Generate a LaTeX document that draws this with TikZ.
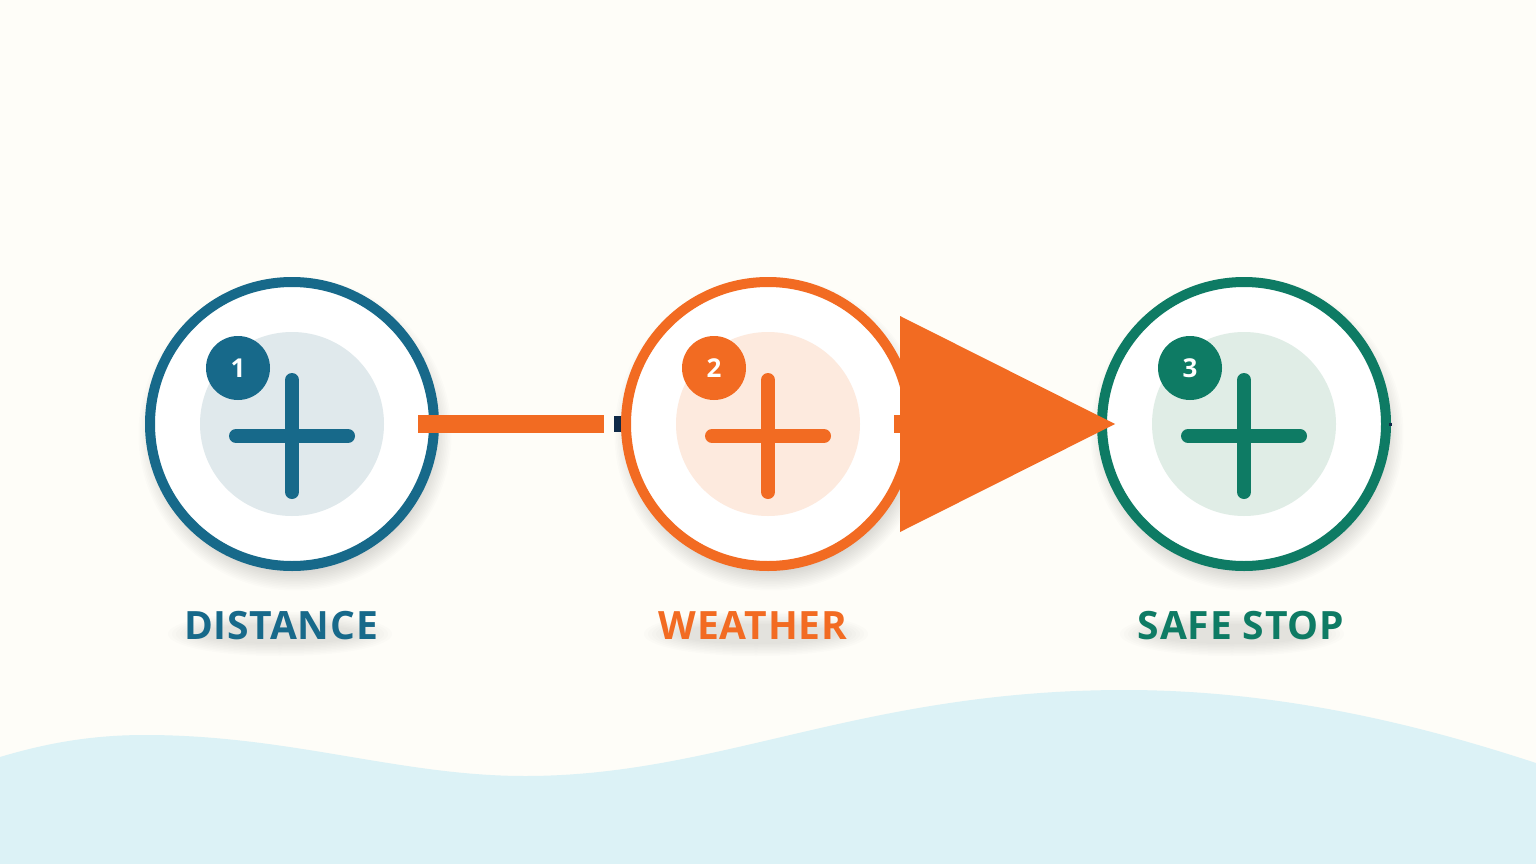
\documentclass[tikz,border=0pt]{standalone}
\usepackage{fontspec}
\setsansfont{Open Sans}
\newfontfamily\labfont[LetterSpace=2]{Open Sans}
\newfontfamily\badgefont{Open Sans}
\definecolor{bg}{HTML}{FEFDF8}
\definecolor{wave}{HTML}{DCF2F6}
\definecolor{cblue}{HTML}{17698A}
\definecolor{corange}{HTML}{F26B22}
\definecolor{cgreen}{HTML}{0E7B64}
\definecolor{tblue}{HTML}{E0E9EC}
\definecolor{torange}{HTML}{FDEADE}
\definecolor{tgreen}{HTML}{E0EDE6}
\definecolor{navy}{HTML}{0F2A48}
\definecolor{shade}{HTML}{4A4A5A}
\tikzset{
  ring/.style={circle, draw=#1, line width=10pt, fill=white, minimum size=284pt, inner sep=0pt},
  disc/.style={circle, fill=#1, minimum size=184pt, inner sep=0pt},
  badge/.style={circle, fill=#1, minimum size=64pt, inner sep=0pt, text=white, font=\badgefont\bfseries\fontsize{26}{26}\selectfont},
  plusbar/.style={draw=#1, line width=14pt, line cap=round},
  lab/.style={text=#1, font=\labfont\bfseries\fontsize{39}{39}\selectfont, inner sep=0pt},
  conn/.style={draw=corange, line width=18pt},
  softshade/.style={fill=shade, fill opacity=0.014},
}
\begin{document}
\begin{tikzpicture}[x=1pt,y=-1pt]
\fill[bg] (0,0) rectangle (1536,864);
\useasboundingbox (0,0) rectangle (1536,864);
\fill[wave] (0,757) .. controls (50,742) and (95,735) .. (145,735)
  .. controls (290,735) and (400,776) .. (525,776)
  .. controls (720,776) and (860,690) .. (1125,690)
  .. controls (1300,690) and (1450,735) .. (1536,763)
  -- (1536,864) -- (0,864) -- cycle;
% soft shadows
\foreach \x in {292,768,1244}{
  \foreach \k in {0,...,14}{
    \fill[softshade] (\x+3,434) circle[radius=134pt+\k*1.6pt];
  }
  \foreach \k in {0,...,8}{
    \fill[softshade] (\x-12,634) ellipse[x radius=80pt+\k*4pt, y radius=10pt+\k*1.5pt];
  }
}
% nodes
\foreach \i/\x/\c/\t/\n/\lx/\txt in {1/292/cblue/tblue/1/281/DISTANCE, 2/768/corange/torange/2/753/WEATHER, 3/1244/cgreen/tgreen/3/1241/SAFE STOP}{
  \node[ring=\c] (c\i) at (\x,424) {};
  \node[disc=\t] (d\i) at (c\i.center) {};
  \coordinate (p\i) at ([yshift=-12pt]c\i.center);
  \draw[plusbar=\c] ([yshift=56pt]p\i) -- ([yshift=-56pt]p\i);
  \draw[plusbar=\c] ([xshift=-56pt]p\i) -- ([xshift=56pt]p\i);
  \node[badge=\c] (b\i) at ([xshift=-54pt,yshift=56pt]c\i.center) {\n};
  \node[lab=\c] (l\i) at (\lx,626) {\txt};
}
% connector 1
\draw[conn] ([xshift=126pt]c1.center) -- ([xshift=-164pt]c2.center);
\fill[navy] ([xshift=-154pt,yshift=8pt]c2.center) rectangle ([xshift=-147pt,yshift=-8pt]c2.center);
% connector 2
\draw[conn] ([xshift=126pt]c2.center) -- ([xshift=133pt]c2.center);
\fill[corange] ([xshift=132pt,yshift=108pt]c2.center) -- ([xshift=-129pt]c3.center) -- ([xshift=132pt,yshift=-108pt]c2.center) -- cycle;
\fill[navy] ([xshift=145pt,yshift=1.5pt]c3.center) rectangle ([xshift=148pt,yshift=-1.5pt]c3.center);
\end{tikzpicture}
\end{document}
